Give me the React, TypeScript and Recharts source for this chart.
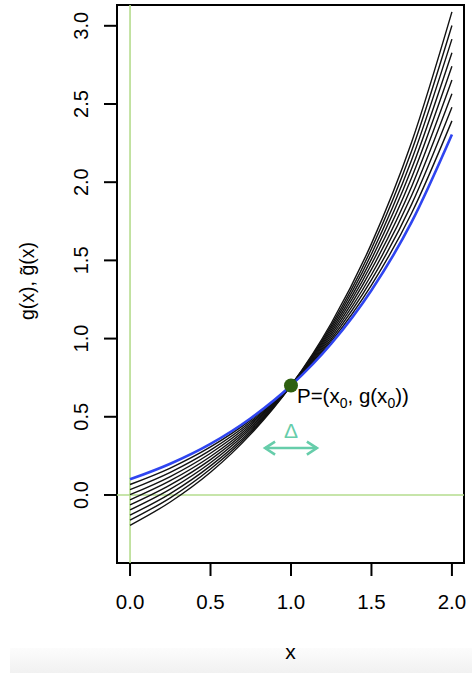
import React from "react";
import {
  LineChart,
  Line,
  XAxis,
  YAxis,
  ReferenceLine,
  ReferenceDot,
  ReferenceArea,
} from "recharts";

const xs = [0, 0.25, 0.5, 0.75, 1, 1.25, 1.5, 1.75, 2];

// blue curve g(x)
const gValues = [0.1, 0.2, 0.327, 0.491, 0.7, 0.967, 1.309, 1.746, 2.305];

// black curves g~(x), all through P
const approx1 = [0.067, 0.172, 0.307, 0.48, 0.7, 0.982, 1.342, 1.803, 2.392];
const approx2 = [0.034, 0.145, 0.287, 0.468, 0.7, 0.996, 1.375, 1.86, 2.479];
const approx3 = [0.002, 0.118, 0.267, 0.457, 0.7, 1.011, 1.408, 1.916, 2.566];
const approx4 = [-0.031, 0.091, 0.246, 0.446, 0.7, 1.025, 1.442, 1.973, 2.653];
const approx5 = [-0.064, 0.064, 0.226, 0.434, 0.7, 1.04, 1.475, 2.03, 2.741];
const approx6 = [-0.096, 0.037, 0.206, 0.423, 0.7, 1.054, 1.508, 2.087, 2.828];
const approx7 = [-0.129, 0.009, 0.186, 0.411, 0.7, 1.069, 1.541, 2.144, 2.915];
const approx8 = [-0.161, -0.018, 0.166, 0.4, 0.7, 1.083, 1.574, 2.201, 3.002];
const approx9 = [-0.194, -0.045, 0.145, 0.389, 0.7, 1.098, 1.607, 2.257, 3.089];

const approxCurves = [approx1, approx2, approx3, approx4, approx5, approx6, approx7, approx8, approx9];

const xTicks = [0, 0.5, 1, 1.5, 2];
const yTicks = [0, 0.5, 1, 1.5, 2, 2.5, 3];

const pointP = { x: 1, y: 0.7 };
const deltaArrow = { from: 0.839, to: 1.161, y: 0.3 };

const xDomain = [-0.081, 2.075];
const yDomain = [-0.435, 3.133];

const data = xs.map((x, i) => {
  const row: Record<string, number> = { x, g: gValues[i] };
  approxCurves.forEach((c, k) => {
    row["a" + (k + 1)] = c[i];
  });
  return row;
});

const FONT = "'Liberation Sans', Arial, Helvetica, sans-serif";

const YTick = (props: any) => {
  const { x, y, payload } = props;
  const bx = x - 14;
  return (
    <text
      x={bx}
      y={y}
      transform={`rotate(-90, ${bx}, ${y})`}
      textAnchor="middle"
      fontSize={20}
      fill="#000"
    >
      {Number(payload.value).toFixed(1)}
    </text>
  );
};

const YLabel = () => (
  <text
    x={34}
    y={281}
    transform="rotate(-90, 34, 281)"
    textAnchor="middle"
    fontSize={19.5}
    fill="#000"
  >
    g(x), g&#771;(x)
  </text>
);

const PointShape = (p: any) => (
  <g>
    <circle cx={p.cx} cy={p.cy} r={7} fill="#2e6010" />
    <text x={p.cx + 6} y={p.cy + 18} fontSize={20.5} fill="#000">
      P=(x
      <tspan fontSize={14} dy={5}>0</tspan>
      <tspan dy={-5}>, g(x</tspan>
      <tspan fontSize={14} dy={5}>0</tspan>
      <tspan dy={-5}>))</tspan>
    </text>
  </g>
);

const ArrowShape = (p: any) => {
  const { x1, y1, x2, y2 } = p;
  const c = "#66cdaa";
  return (
    <g>
      <line x1={x1} y1={y1} x2={x2} y2={y2} stroke={c} strokeWidth={2.6} />
      <path
        d={`M${x1 + 10},${y1 - 6.5} L${x1},${y1} L${x1 + 10},${y1 + 6.5}`}
        fill="none"
        stroke={c}
        strokeWidth={2.6}
      />
      <path
        d={`M${x2 - 10},${y2 - 6.5} L${x2},${y2} L${x2 - 10},${y2 + 6.5}`}
        fill="none"
        stroke={c}
        strokeWidth={2.6}
      />
      <text x={(x1 + x2) / 2} y={y1 - 10} textAnchor="middle" fontSize={21} fill={c}>
        Δ
      </text>
    </g>
  );
};

export default function App() {
  return (
    <div style={{ position: "absolute", left: 0, top: 0, width: 472, height: 673, background: "#fff" }}>
      <div
        style={{
          position: "absolute",
          left: 10,
          top: 648,
          width: 462,
          height: 25,
          background: "linear-gradient(#fcfcfc, #f1f1f1)",
        }}
      />
      <div style={{ position: "absolute", left: 0, top: 0 }}>
        <LineChart
          width={472}
          height={673}
          data={data}
          margin={{ top: 5, right: 8, left: 0, bottom: 0 }}
          style={{ fontFamily: FONT }}
        >
          <XAxis
            dataKey="x"
            type="number"
            domain={xDomain}
            ticks={xTicks}
            allowDataOverflow
            tickFormatter={(v: number) => v.toFixed(1)}
            tickSize={13}
            tickMargin={18}
            axisLine={false}
            tickLine={{ stroke: "#000", strokeWidth: 2 }}
            tick={{ fill: "#000", fontSize: 20.5 }}
            height={110}
            label={{ value: "x", position: "insideBottom", offset: 14, fill: "#000", fontSize: 21 }}
          />
          <YAxis
            type="number"
            domain={yDomain}
            ticks={yTicks}
            allowDataOverflow
            width={117}
            tickSize={13}
            axisLine={false}
            tickLine={{ stroke: "#000", strokeWidth: 2 }}
            tick={<YTick />}
            label={<YLabel />}
          />
          <ReferenceLine x={0} stroke="#b5dc8e" strokeWidth={1.6} />
          <ReferenceLine y={0} stroke="#b5dc8e" strokeWidth={1.6} />
          {approxCurves.map((_, k) => (
            <Line
              key={k}
              dataKey={"a" + (k + 1)}
              type="monotone"
              stroke="#111"
              strokeWidth={1.4}
              dot={false}
              isAnimationActive={false}
            />
          ))}
          <Line
            dataKey="g"
            type="monotone"
            stroke="#2f45f0"
            strokeWidth={2.6}
            dot={false}
            isAnimationActive={false}
          />
          <ReferenceArea
            x1={xDomain[0]}
            x2={xDomain[1]}
            y1={yDomain[0]}
            y2={yDomain[1]}
            fill="none"
            stroke="#000"
            strokeWidth={2}
            ifOverflow="visible"
          />
          <ReferenceDot x={pointP.x} y={pointP.y} r={7} shape={PointShape} />
          <ReferenceLine
            segment={[
              { x: deltaArrow.from, y: deltaArrow.y },
              { x: deltaArrow.to, y: deltaArrow.y },
            ]}
            shape={ArrowShape}
          />
        </LineChart>
      </div>
    </div>
  );
}
